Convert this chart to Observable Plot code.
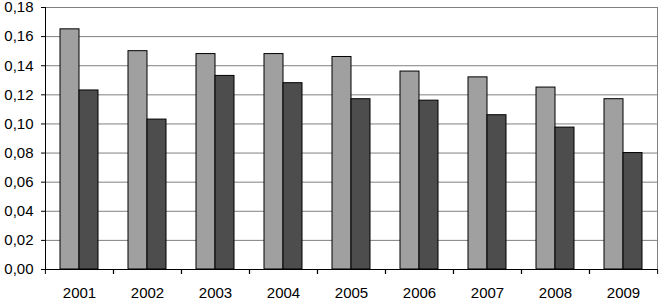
<!DOCTYPE html>
<html>
<head>
<meta charset="utf-8">
<script src="https://cdn.jsdelivr.net/npm/d3@7"></script>
<script src="https://cdn.jsdelivr.net/npm/@observablehq/plot@0.6"></script>
<style>
  html, body { margin: 0; padding: 0; background: white; }
</style>
</head>
<body>
<div id="chart"></div>
<script>
const years = ["2001","2002","2003","2004","2005","2006","2007","2008","2009"];
const seriesNames = ["A","B"];
const seriesA = [0.165,0.150,0.148,0.148,0.146,0.136,0.132,0.125,0.117];
const seriesB = [0.123,0.103,0.133,0.128,0.117,0.116,0.106,0.0975,0.080];
const yTicks = [0,0.02,0.04,0.06,0.08,0.10,0.12,0.14,0.16,0.18];
const colors = ["#a0a0a0","#4d4d4d"];

const data = years.flatMap((yr, i) => [
  {year: yr, series: "A", value: seriesA[i]},
  {year: yr, series: "B", value: seriesB[i]}
]);

const W = 659, H = 299, ML = 44, MR = 1, MT = 7, MB = 30;
const half = (W - ML - MR) / years.length / 2;
const fmt = d => d.toFixed(2).replace(".", ",");

const chart = Plot.plot({
  width: W, height: H,
  marginLeft: ML, marginRight: MR, marginTop: MT, marginBottom: MB,
  style: {fontFamily: "'Liberation Sans', Arial, sans-serif", fontSize: "15px", color: "black", background: "white", overflow: "visible"},
  fx: {domain: years, padding: 0, label: null, axis: null},
  x: {domain: seriesNames, paddingInner: 0, paddingOuter: 0.77, axis: null},
  y: {domain: [0, 0.18], label: null, axis: null},
  color: {domain: seriesNames, range: colors},
  marks: [
    Plot.gridY(yTicks, {stroke: "#808080", strokeOpacity: 1}),
    Plot.frame({anchor: "right", facetAnchor: "right", stroke: "#808080"}),
    Plot.barY(data, {fx: "year", x: "series", y: "value", fill: "series", stroke: "black", strokeWidth: 1}),
    Plot.axisY(yTicks, {tickSize: 4, tickPadding: 8, tickFormat: fmt, fontSize: 15, label: null}),
    Plot.frame({anchor: "left", facetAnchor: "left", stroke: "black"}),
    Plot.ruleY([0], {stroke: "black"}),
    Plot.axisFx({anchor: "bottom", tickSize: 0, tickPadding: 18, fontSize: 15, label: null}),
    Plot.axisFx({anchor: "bottom", text: null, tickSize: 5, dx: -half, label: null}),
    Plot.axisFx({anchor: "bottom", text: null, tickSize: 5, dx: half, label: null})
  ]
});
document.getElementById("chart").appendChild(chart);
</script>
</body>
</html>
